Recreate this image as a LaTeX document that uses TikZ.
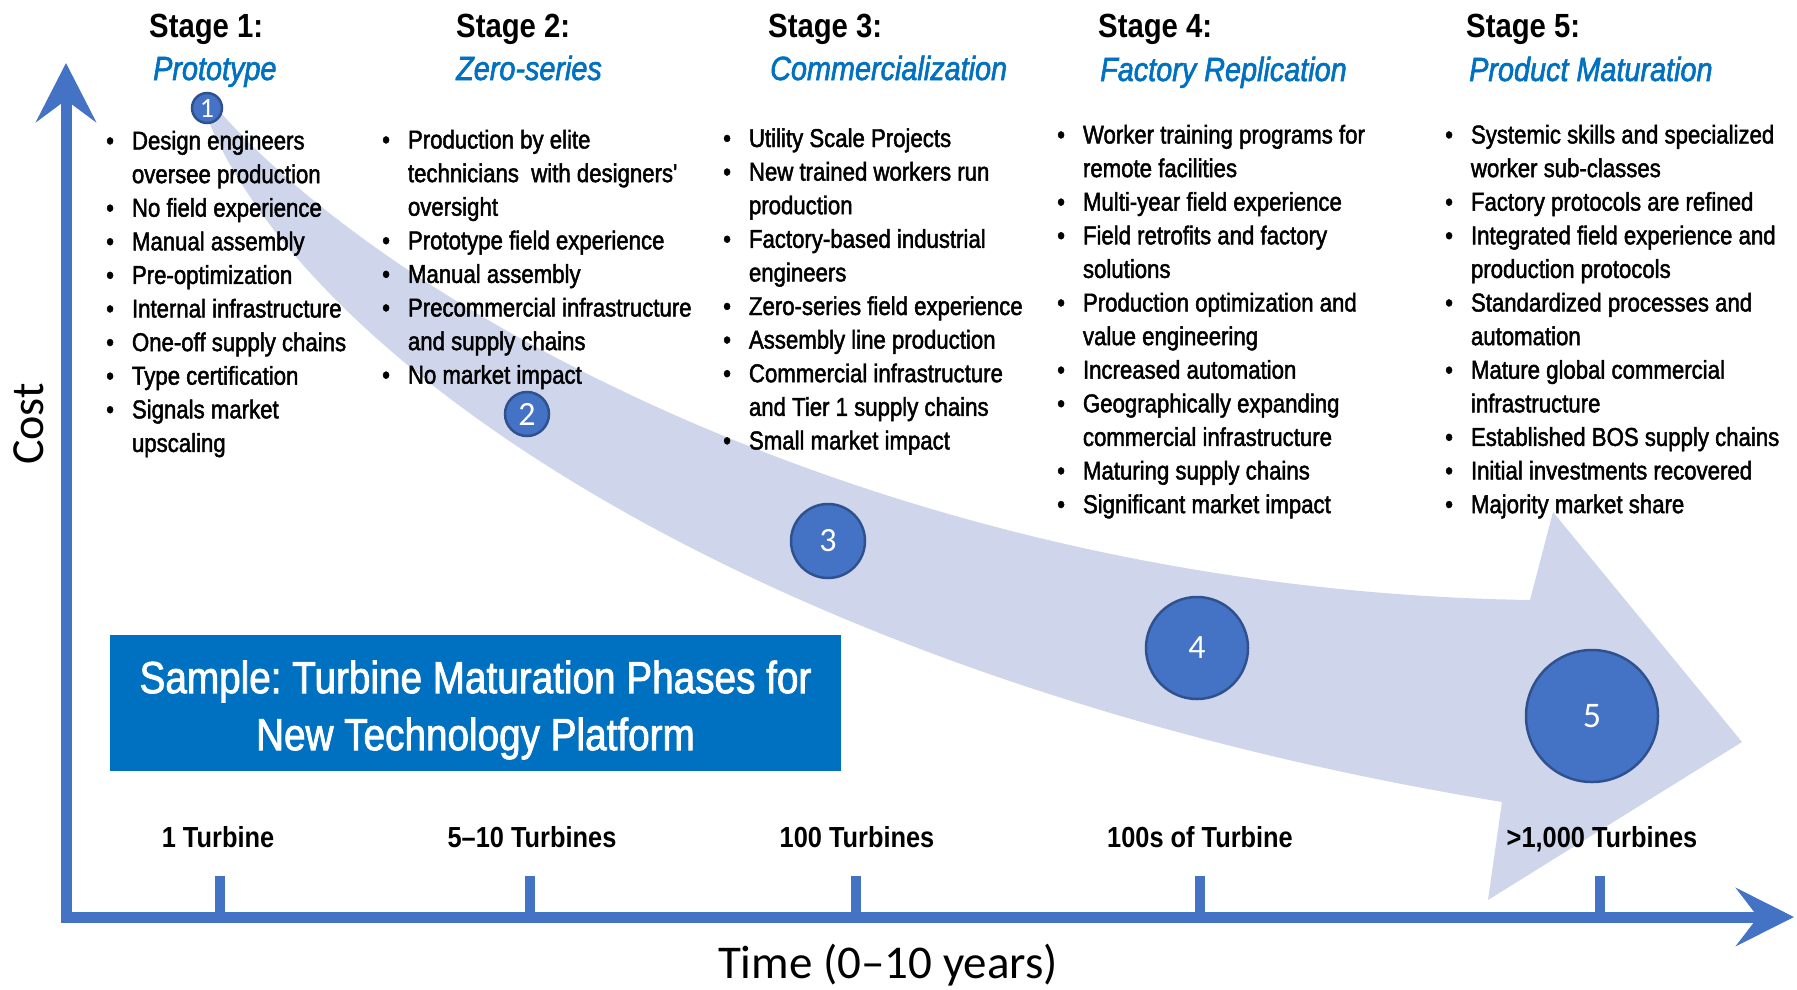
\documentclass[tikz,border=0pt]{standalone}
\usepackage{tikz}
\usepackage{fontspec}
\setmainfont{Liberation Sans}
\newfontfamily\condfont[FakeStretch=0.875]{Liberation Sans}
\newfontfamily\bodyfont[FakeStretch=0.86,FakeBold=1.8]{Liberation Sans}
\newfontfamily\calibri{Carlito}
\definecolor{axisblue}{RGB}{68, 114, 196}
\definecolor{circleedge}{RGB}{47, 82, 143}
\definecolor{titleblue}{RGB}{0, 112, 192}
\definecolor{bandfill}{RGB}{207, 213, 234}
\usetikzlibrary{arrows.meta}

\begin{document}
\frenchspacing
\begin{tikzpicture}[x=1pt, y=-1pt,
        stagehead/.style={anchor=base west, inner sep=0pt, font=\condfont\bfseries\fontsize{33.5}{40}\selectfont},
        stagename/.style={anchor=base west, inner sep=0pt, text=titleblue, font=\bodyfont\itshape\fontsize{33.5}{40}\selectfont},
        stagelist/.style={anchor=base west, inner sep=0pt, font=\bodyfont\fontsize{25.8}{33.6}\selectfont},
        phase/.style={circle, draw=circleedge, line width=2.5pt, fill=axisblue, text=white, inner sep=0pt},
        turbines/.style={anchor=base, inner sep=0pt, font=\condfont\bfseries\fontsize{29}{34}\selectfont},
        tickmark/.style={axisblue, line width=10pt},
        axis/.style={axisblue, line width=11pt, line join=miter}
    ]
        \useasboundingbox (0,0) rectangle (1797,989);

        % Maturation band with arrow head
        \fill[bandfill] (215,106) .. controls (380,300) and (880,590) .. (1530,600)
            -- (1553,512) -- (1742,742) -- (1488,900) -- (1502,802)
            .. controls (760,680) and (300,360) .. (205,112) -- cycle;

        % Axes
        \draw[axis, {Stealth[length=59pt, width=60pt, inset=22pt]}-{Stealth[length=58pt, width=58pt, inset=22pt]}]
            (66,63) -- (66,917) -- (1794,917);
        \node[rotate=90, font=\calibri\fontsize{46}{50}\selectfont] (cost) at (29,424) {Cost};
        \node[font=\calibri\fontsize{47}{50}\selectfont] (time) at (888,965) {Time (0–10 years)};

        % Turbine counts on the time axis
        \foreach \i/\x/\tx/\lab in {1/218/220/1 Turbine, 2/532/530/5–10 Turbines, 3/857/856/100 Turbines,
                                  4/1200/1200/100s of Turbine, 5/1602/1600/{>1,000 Turbines}} {
            \node[turbines] (count\i) at (\x,847) {\lab};
            \draw[tickmark] (\tx,876) -- (\tx,917);
        }

        % Stage headings
        \node[stagehead] (head1) at (149,37) {Stage 1:};
        \node[stagename] (name1) at (153,80) {Prototype};
        \node[stagehead] (head2) at (456,37) {Stage 2:};
        \node[stagename] (name2) at (456,80) {Zero-series};
        \node[stagehead] (head3) at (768,37) {Stage 3:};
        \node[stagename] (name3) at (770,80) {Commercialization};
        \node[stagehead] (head4) at (1098,37) {Stage 4:};
        \node[stagename] (name4) at (1100,81) {Factory Replication};
        \node[stagehead] (head5) at (1466,37) {Stage 5:};
        \node[stagename] (name5) at (1469,81) {Product Maturation};

        % Stage 1
        \node[stagelist] (list1) at (106,149.5) {\begin{tabular}[t]{@{}l@{\hspace{18pt}}l@{}}
            • & Design engineers\\
              & oversee production\\
            • & No field experience\\
            • & Manual assembly\\
            • & Pre-optimization\\
            • & Internal infrastructure\\
            • & One-off supply chains\\
            • & Type certification\\
            • & Signals market\\
              & upscaling
        \end{tabular}};

        % Stage 2
        \node[stagelist] (list2) at (382,148.5) {\begin{tabular}[t]{@{}l@{\hspace{18pt}}l@{}}
            • & Production by elite\\
              & technicians\ \ with designers'\\
              & oversight\\
            • & Prototype field experience\\
            • & Manual assembly\\
            • & Precommercial infrastructure\\
              & and supply chains\\
            • & No market impact
        \end{tabular}};

        % Stage 3
        \node[stagelist] (list3) at (723,147) {\begin{tabular}[t]{@{}l@{\hspace{18pt}}l@{}}
            • & Utility Scale Projects\\
            • & New trained workers run\\
              & production\\
            • & Factory-based industrial\\
              & engineers\\
            • & Zero-series field experience\\
            • & Assembly line production\\
            • & Commercial infrastructure\\
              & and Tier 1 supply chains\\
            • & Small market impact
        \end{tabular}};

        % Stage 4
        \node[stagelist] (list4) at (1057,143.5) {\begin{tabular}[t]{@{}l@{\hspace{18pt}}l@{}}
            • & Worker training programs for\\
              & remote facilities\\
            • & Multi-year field experience\\
            • & Field retrofits and factory\\
              & solutions\\
            • & Production optimization and\\
              & value engineering\\
            • & Increased automation\\
            • & Geographically expanding\\
              & commercial infrastructure\\
            • & Maturing supply chains\\
            • & Significant market impact
        \end{tabular}};

        % Stage 5
        \node[stagelist] (list5) at (1445,143.5) {\begin{tabular}[t]{@{}l@{\hspace{18pt}}l@{}}
            • & Systemic skills and specialized\\
              & worker sub-classes\\
            • & Factory protocols are refined\\
            • & Integrated field experience and\\
              & production protocols\\
            • & Standardized processes and\\
              & automation\\
            • & Mature global commercial\\
              & infrastructure\\
            • & Established BOS supply chains\\
            • & Initial investments recovered\\
            • & Majority market share
        \end{tabular}};

        % Title box
        \node[fill=titleblue, minimum width=731pt, minimum height=136pt] (sample) at (475.5,703) {};
        \node[text=white, align=center, font=\bodyfont\fontsize{45}{57}\selectfont] (sampletext) at (475.5,710)
            {Sample: Turbine Maturation Phases for\\New Technology Platform};

        % Phase markers along the band
        \foreach \i/\x/\y/\d/\fs in {1/207/108/30/28, 2/527/414/44/34, 3/828/541/74/34, 4/1197/648/102/34, 5/1592/716/132/36} {
            \node[phase, minimum size=\d pt, font=\calibri\fontsize{\fs}{\fs}\selectfont] (phase\i) at (\x,\y) {\i};
        }
    \end{tikzpicture}
\end{document}
